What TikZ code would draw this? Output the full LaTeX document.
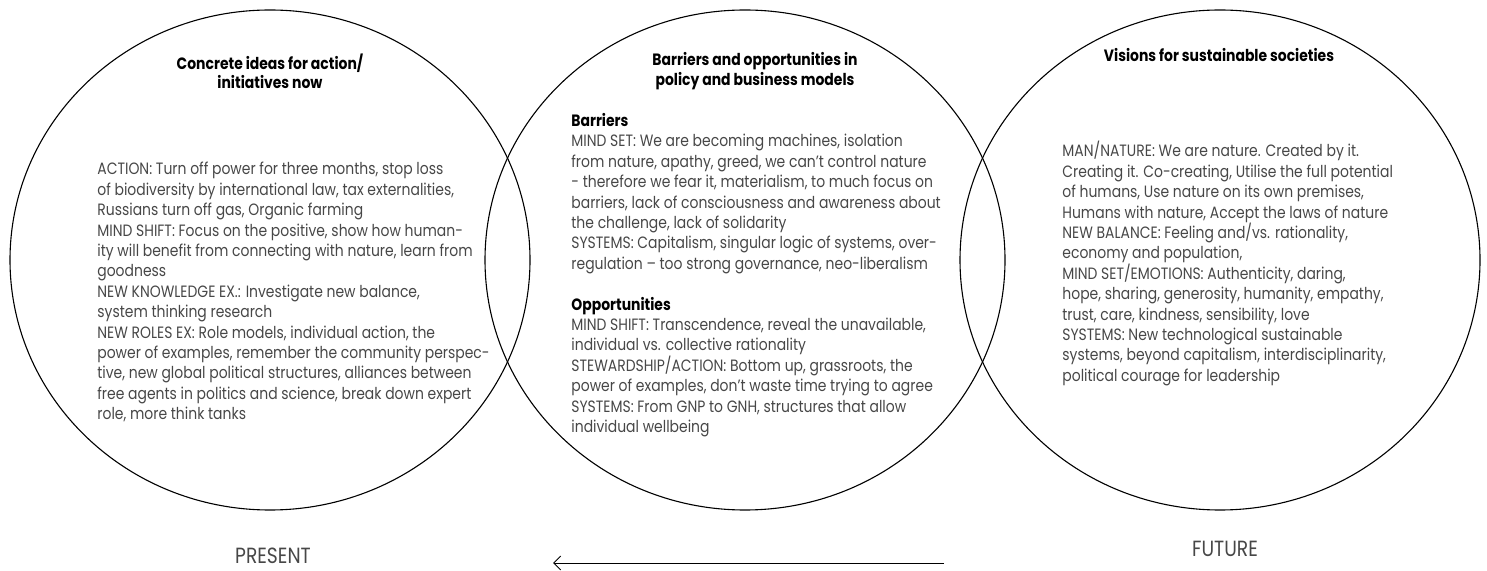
\documentclass[tikz,border=0pt]{standalone}
\usepackage{fontspec}
\setmainfont{Poppins}[FakeStretch=0.85]
\usetikzlibrary{arrows.meta}
\definecolor{bodygray}{gray}{0.28}
\tikzset{
  x=0.5pt, y=-0.5pt,
  ring/.style={draw=black, line width=0.55pt},
  title/.style={font=\bfseries\fontsize{8.2}{9.65}\selectfont, align=center, inner sep=0pt, text=black},
  body/.style={font=\fontsize{8.2}{10.2}\selectfont, align=left, inner sep=0pt, anchor=north west, text=bodygray},
  timelabel/.style={font=\fontsize{11}{12}\selectfont, inner sep=0pt, text=bodygray},
  timearrow/.style={draw=black, line width=0.5pt, -{Straight Barb[length=3.5pt,width=7pt]}}
}
\begin{document}
\begin{tikzpicture}
\useasboundingbox (0,0) rectangle (1487,571);
\draw[ring] (270,260) ellipse [x radius=130pt, y radius=125pt];
\draw[ring] (745,260) ellipse [x radius=130pt, y radius=125pt];
\draw[ring] (1220,260) ellipse [x radius=130pt, y radius=125pt];
\node[title] (t1) at (270,71) {Concrete ideas for action/\\initiatives now};
\node[title] (t2) at (755,71) {Barriers and opportunities in\\policy and business models};
\node[title] (t3) at (1219,55) {Visions for sustainable societies};
\node[body] (b1) at (97,162) {ACTION: Turn off power for three months, stop loss\\
of biodiversity by international law, tax externalities,\\
Russians turn off gas, Organic farming\\
MIND SHIFT: Focus on the positive, show how human-\\
ity will benefit from connecting with nature, learn from\\
goodness\\
NEW KNOWLEDGE EX.: Investigate new balance,\\
system thinking research\\
NEW ROLES EX: Role models, individual action, the\\
power of examples, remember the community perspec-\\
tive, new global political structures, alliances between\\
free agents in politics and science, break down expert\\
role, more think tanks};
\node[body] (b2) at (571,113) {{\color{black}\bfseries Barriers}\\
MIND SET: We are becoming machines, isolation\\
from nature, apathy, greed, we can’t control nature\\
- therefore we fear it, materialism, to much focus on\\
barriers, lack of consciousness and awareness about\\
the challenge, lack of solidarity\\
SYSTEMS: Capitalism, singular logic of systems, over-\\
regulation -- too strong governance, neo-liberalism\\
\mbox{}\\
{\color{black}\bfseries Opportunities}\\
MIND SHIFT: Transcendence, reveal the unavailable,\\
individual vs. collective rationality\\
STEWARDSHIP/ACTION: Bottom up, grassroots, the\\
power of examples, don’t waste time trying to agree\\
SYSTEMS: From GNP to GNH, structures that allow\\
individual wellbeing};
\node[body] (b3) at (1062,141) {MAN/NATURE: We are nature. Created by it.\\
Creating it. Co-creating, Utilise the full potential\\
of humans, Use nature on its own premises,\\
Humans with nature, Accept the laws of nature\\
NEW BALANCE: Feeling and/vs. rationality,\\
economy and population,\\
MIND SET/EMOTIONS: Authenticity, daring,\\
hope, sharing, generosity, humanity, empathy,\\
trust, care, kindness, sensibility, love\\
SYSTEMS: New technological sustainable\\
systems, beyond capitalism, interdisciplinarity,\\
political courage for leadership};
\node[timelabel] (present) at (273,556) {PRESENT};
\node[timelabel] (future) at (1225,549) {FUTURE};
\coordinate (arrs) at (944,563);
\coordinate (arre) at (553,563);
\draw[timearrow] (arrs) -- (arre);
\end{tikzpicture}
\end{document}
